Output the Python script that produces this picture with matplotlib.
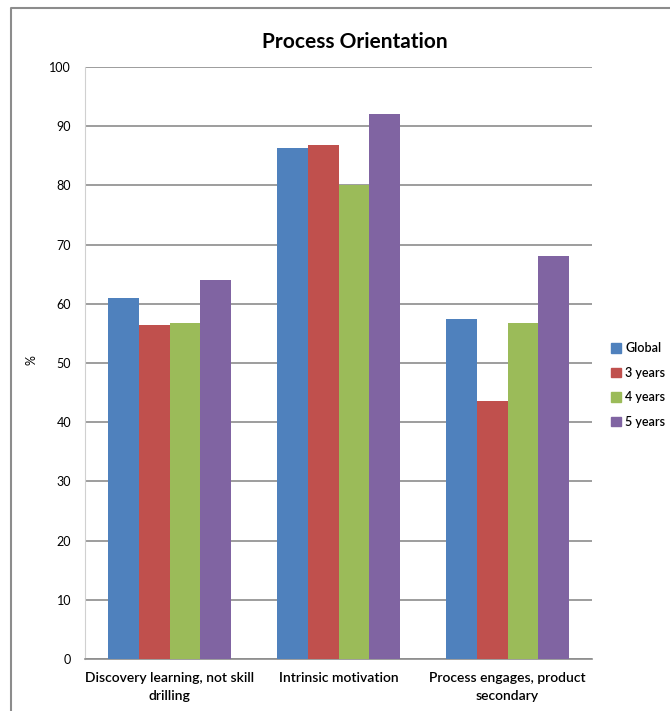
import matplotlib
matplotlib.use("Agg")
import matplotlib.pyplot as plt
import numpy as np
from matplotlib.lines import Line2D

# values
categories = ["Discovery learning, not skill\ndrilling",
              "Intrinsic motivation",
              "Process engages, product\nsecondary"]
series_names = ["Global", "3 years", "4 years", "5 years"]
global_vals = [61.0, 86.3, 57.5]
years3_vals = [56.4, 86.9, 43.5]
years4_vals = [56.7, 80.0, 56.7]
years5_vals = [64.0, 92.1, 68.1]
yticks = [0, 10, 20, 30, 40, 50, 60, 70, 80, 90, 100]

colors = ["#4F81BD", "#C0504D", "#9BBB59", "#8064A2"]
font = ["Lato", "DejaVu Sans"]
plt.rcParams["font.family"] = font

W, H = 670, 711
fig = plt.figure(figsize=(W / 100, H / 100), dpi=100)
ax = fig.add_axes([85 / W, 1 - 659 / H, (592 - 85) / W, (659 - 67) / H])

x = np.arange(len(categories))
bar_w = 0.727 / 4
all_vals = [global_vals, years3_vals, years4_vals, years5_vals]
for i, (name, vals) in enumerate(zip(series_names, all_vals)):
    ax.bar(x + (i - 1.5) * bar_w, vals, width=bar_w, color=colors[i],
           label=name, zorder=3)

ax.set_xlim(-0.5, len(categories) - 0.5)
ax.set_ylim(0, 100)
ax.set_yticks(yticks)
ax.set_xticks(x)
ax.set_xticklabels(categories, fontsize=10, fontweight="semibold", linespacing=1.65)
ax.tick_params(axis="y", length=0, labelsize=9, pad=10)
ax.tick_params(axis="x", length=0, pad=9)
ax.yaxis.grid(True, color="#8C8C8C", linewidth=1.2, zorder=0)
ax.set_axisbelow(True)
for s in ("top", "right"):
    ax.spines[s].set_visible(False)
ax.spines["left"].set_color("#D0D0D0")
ax.spines["bottom"].set_color("#8C8C8C")
ax.spines["bottom"].set_linewidth(1.2)

fig.text(31 / W, 1 - 360 / H, "%", ha="center", va="center",
         fontsize=9, rotation=90)
fig.text(355 / W, 1 - 42 / H, "Process Orientation", ha="center", va="center",
         fontsize=15, fontweight="bold")

handles = [plt.Rectangle((0, 0), 1, 1, color=c) for c in colors]
fig.legend(handles, series_names, loc="upper left",
           bbox_to_anchor=(600 / W, 1 - 331 / H), frameon=False,
           handlelength=0.8, handleheight=0.8,
           handletextpad=0.3, labelspacing=1.0,
           prop={"weight": "semibold", "size": 9})

# outer chart frame (left and top edges)
fig.add_artist(Line2D([11 / W, 11 / W, 1.0], [0.0, 1 - 8 / H, 1 - 8 / H],
                      transform=fig.transFigure, color="#8C8C8C", linewidth=1.5))

fig.savefig("out.png", dpi=100)
